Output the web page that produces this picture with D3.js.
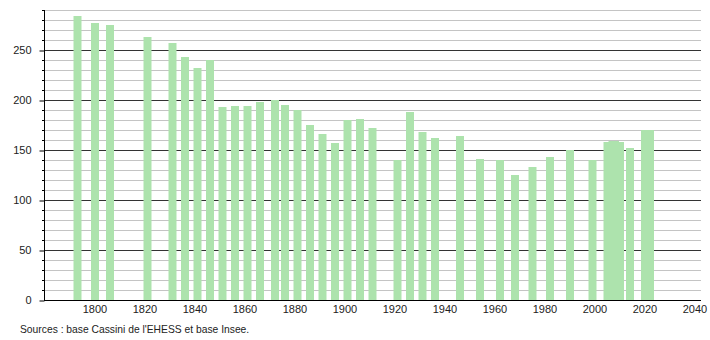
<!DOCTYPE html>
<html>
<head>
<meta charset="utf-8">
<script src="https://cdn.jsdelivr.net/npm/d3@7"></script>
<style>
  body { margin: 0; background: #fff; }
  svg { display: block; font-family: "Liberation Sans", Arial, sans-serif; }
</style>
</head>
<body>
<svg id="chart" width="710" height="340"></svg>
<script>
// recensements
const years = [1793, 1800, 1806, 1821, 1831, 1836, 1841, 1846, 1851, 1856,
  1861, 1866, 1872, 1876, 1881, 1886, 1891, 1896, 1901, 1906,
  1911, 1921, 1926, 1931, 1936, 1946, 1954, 1962, 1968, 1975,
  1982, 1990, 1999, 2005, 2006, 2007, 2008, 2009, 2010, 2014,
  2020, 2021, 2022]
const population = [284, 277, 275, 263, 257, 243, 232, 240, 193, 194,
  194, 198, 200, 195, 190, 175, 166, 157, 180, 181,
  172, 140, 188, 168, 162, 164, 141, 140, 125, 133,
  143, 150, 140, 158, 158, 159, 159, 158, 158, 152,
  170, 170, 170]
const xTicks = [1800, 1820, 1840, 1860, 1880, 1900, 1920, 1940, 1960, 1980, 2000, 2020, 2040]
const yTicks = [0, 50, 100, 150, 200, 250]
const sourceText = "Sources : base Cassini de l'EHESS et base Insee."

const svg = d3.select('#chart')
const margin = { top: 10, right: 10, bottom: 40, left: 44 }
const width = 710, height = 340

const x = d3.scaleLinear().domain([1780, 2042.4]).range([45, 701])
const y = d3.scaleLinear().domain([0, 290]).range([height - margin.bottom, margin.top])

// grille secondaire (tous les 10)
svg.append('g')
  .selectAll('line')
  .data(d3.range(10, 291, 10).filter(v => v % 50 !== 0))
  .join('line')
  .attr('x1', margin.left).attr('x2', x.range()[1])
  .attr('y1', d => y(d) + 0.5).attr('y2', d => y(d) + 0.5)
  .attr('stroke', '#c4c4c4')

// grille principale
svg.append('g')
  .selectAll('line')
  .data(yTicks.filter(v => v > 0))
  .join('line')
  .attr('x1', margin.left).attr('x2', x.range()[1])
  .attr('y1', d => y(d) + 0.5).attr('y2', d => y(d) + 0.5)
  .attr('stroke', '#333')

// barres
const barW = 8
svg.append('g')
  .selectAll('rect')
  .data(years.map((yr, i) => ({ yr, v: population[i] })))
  .join('rect')
  .attr('x', d => x(d.yr) - barW / 2)
  .attr('width', barW)
  .attr('y', d => y(d.v))
  .attr('height', d => y(0) - y(d.v))
  .attr('fill', '#ade3ad')

// axe y
const yAxis = d3.axisLeft(y)
  .tickValues(yTicks)
  .tickSize(5)
  .tickPadding(8)
svg.append('g')
  .attr('transform', `translate(${margin.left + 0.5},0)`)
  .call(yAxis)
  .call(g => g.select('.domain').attr('stroke', '#000').attr('d', `M0,${y(290)}V${y(0)}`))
  .call(g => g.selectAll('.tick line').attr('stroke', '#000').attr('transform', 'translate(0,0.5)'))
  .call(g => g.selectAll('text').attr('font-size', 11).attr('fill', '#222')
    .attr('font-family', '"Liberation Sans", Arial, sans-serif'))

// petits tirets
svg.append('g')
  .selectAll('line')
  .data(d3.range(10, 291, 10).filter(v => v % 50 !== 0))
  .join('line')
  .attr('x1', margin.left - 2).attr('x2', margin.left)
  .attr('y1', d => y(d) + 0.5).attr('y2', d => y(d) + 0.5)
  .attr('stroke', '#000')

// axe x
svg.append('line')
  .attr('x1', margin.left).attr('x2', x.range()[1])
  .attr('y1', y(0) + 0.5).attr('y2', y(0) + 0.5)
  .attr('stroke', '#000')

svg.append('g')
  .selectAll('text')
  .data(xTicks)
  .join('text')
  .attr('x', d => x(d))
  .attr('y', y(0) + 13)
  .attr('text-anchor', 'middle')
  .attr('font-size', 11)
  .attr('fill', '#222')
  .text(d => d)

svg.append('text')
  .attr('x', 20)
  .attr('y', 333)
  .attr('font-size', 10.3)
  .attr('fill', '#222')
  .text(sourceText)
</script>
</body>
</html>
